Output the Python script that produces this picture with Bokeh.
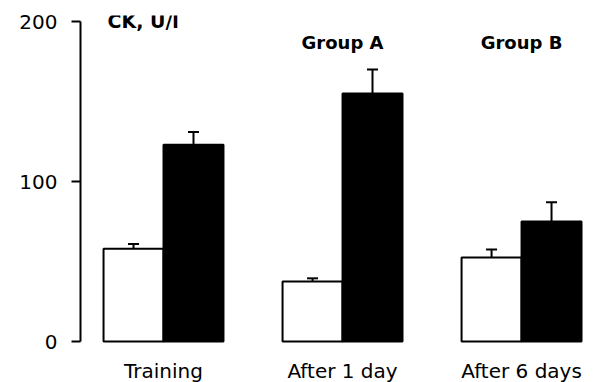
from bokeh.plotting import figure
from bokeh.models import ColumnDataSource, Range1d, FixedTicker, LabelSet, Whisker, TeeHead
from bokeh.core.properties import value
from bokeh.embed import file_html
from bokeh.resources import INLINE

# ---- data ----
groups = ["Training", "After 1 day", "After 6 days"]
white_vals = [58, 37.5, 52.5]
white_err = [3, 2, 5]
black_vals = [123, 155, 75]
black_err = [8, 15, 12]
y_ticks = [0, 100, 200]
panel_titles = ["Group A", "Group B"]
panel_groups = [1, 2]
axis_title = "CK, U/l"

FONT = "DejaVu Sans"
BAR_W = 0.335
gx = list(range(len(groups)))
white_x = [g - BAR_W / 2 for g in gx]
black_x = [g + BAR_W / 2 for g in gx]

W, H = 605, 382
p = figure(width=W, height=H,
           x_range=Range1d(-0.4637, 2.469), y_range=Range1d(-25.6, 203.75),
           output_backend="svg", toolbar_location=None,
           x_axis_location=None,
           min_border_left=80, min_border_top=15, min_border_bottom=0, min_border_right=0)
p.outline_line_color = None
p.grid.grid_line_color = None
p.background_fill_color = "white"
p.border_fill_color = "white"

# bars
p.vbar(x=white_x, top=white_vals, bottom=0, width=BAR_W,
       fill_color="white", line_color="black", line_width=2)
p.vbar(x=black_x, top=black_vals, bottom=0, width=BAR_W,
       fill_color="black", line_color="black", line_width=2)

# error bars (upper only)
err_src = ColumnDataSource(dict(
    x=white_x + black_x,
    lower=white_vals + black_vals,
    upper=[v + e for v, e in zip(white_vals, white_err)] + [v + e for v, e in zip(black_vals, black_err)],
))
wh = Whisker(source=err_src, base="x", lower="lower", upper="upper", dimension="height",
             line_width=2, line_color="black",
             upper_head=TeeHead(size=11, line_width=2, line_color="black"), lower_head=None,
             level="overlay")
p.add_layout(wh)

# y axis
ax = p.yaxis[0]
ax.ticker = FixedTicker(ticks=y_ticks)
ax.bounds = (0, 200)
ax.axis_line_width = 2
ax.axis_line_color = "black"
ax.major_tick_line_width = 2
ax.major_tick_in = 0
ax.major_tick_out = 9
ax.minor_tick_line_color = None
ax.major_label_text_font = FONT
ax.major_label_text_font_size = "20px"
ax.major_label_text_color = "black"
ax.major_label_standoff = 14

# category labels under the bars
lab_src = ColumnDataSource(dict(x=gx, text=groups))
p.add_layout(LabelSet(source=lab_src, x="x", y=-22.5, text="text",
                      text_font=value(FONT), text_font_size=value("20px"),
                      text_align="center", text_baseline="alphabetic", text_color="black"))

# panel titles
pt_src = ColumnDataSource(dict(x=panel_groups, text=panel_titles))
p.add_layout(LabelSet(source=pt_src, x="x", y=183, text="text",
                      text_font=value(FONT), text_font_size=value("18px"), text_font_style="bold",
                      text_align="center", text_baseline="alphabetic", text_color="black"))

# axis title
at_src = ColumnDataSource(dict(x=[-0.313], text=[axis_title]))
p.add_layout(LabelSet(source=at_src, x="x", y=196, text="text",
                      text_font=value(FONT), text_font_size=value("19px"), text_font_style="bold",
                      text_align="left", text_baseline="alphabetic", text_color="black"))

open("out.html", "w").write(file_html(p, INLINE))
